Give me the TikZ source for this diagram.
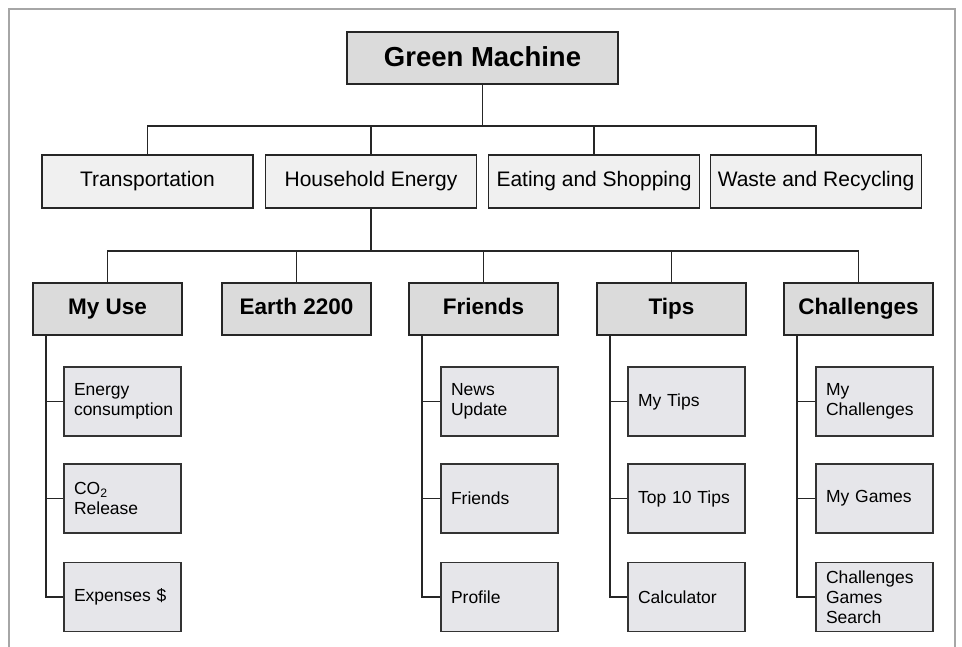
\documentclass[tikz,border=0pt]{standalone}
\usepackage{fontspec}
\setmainfont{Liberation Sans}
\begin{document}
\begin{tikzpicture}[x=1pt,y=-1pt,
  topbox/.style={draw=black!85, line width=2pt, fill=black!14, minimum width=271pt, minimum height=52pt, inner sep=0pt, text height=18pt, text depth=0pt, font=\fontsize{27.5}{33}\selectfont\bfseries},
  catbox/.style={draw=black!85, line width=1.5pt, fill=black!6, minimum width=211pt, minimum height=53pt, inner sep=0pt, text height=10.4pt, text depth=0pt, font=\fontsize{21}{25}\selectfont},
  secbox/.style={draw=black!85, line width=2.3pt, fill=black!14, minimum width=149pt, minimum height=52pt, inner sep=0pt, text height=12pt, text depth=0pt, font=\fontsize{22.5}{27}\selectfont\bfseries},
  leafbox/.style={draw=black!80, line width=1.4pt, fill=gray!15!blue!2!white!92!black, minimum height=69pt, inner xsep=10pt, inner ysep=0pt, text width=97pt, align=left, font=\fontsize{17.5}{20}\selectfont},
  conn/.style={draw=black!85, line width=1.3pt},
  framel/.style={draw=black!35, line width=2pt}
]
\useasboundingbox (0,0) rectangle (962,647);
\draw[framel] (9,647) -- (9,9) -- (955,9) -- (955,647);

% top
\node[topbox] (gm) at (482.5,58) {Green Machine};

% level 2
\node[catbox] (tr) at (147.5,181.5) {Transportation};
\node[catbox] (he) at (371,181.5) {Household Energy};
\node[catbox] (es) at (594,181.5) {Eating and Shopping};
\node[catbox] (wr) at (816,181.5) {Waste and Recycling};

% level 3
\node[secbox] (mu) at (107.5,309) {My Use};
\node[secbox] (ea) at (296.5,309) {Earth 2200};
\node[secbox] (fr) at (483.5,309) {Friends};
\node[secbox] (ti) at (671.5,309) {Tips};
\node[secbox] (ch) at (858.5,309) {Challenges};

% leaves
\node[leafbox] (mu1) at (122.5,401.5) {Energy\\consumption};
\node[leafbox] (mu2) at (122.5,498.5) {CO\textsubscript{2}\\Release};
\node[leafbox] (mu3) at (122.5,597) {Expenses \$};
\node[leafbox] (fr1) at (499.5,401.5) {News\\Update};
\node[leafbox] (fr2) at (499.5,498.5) {Friends};
\node[leafbox] (fr3) at (499.5,597) {Profile};
\node[leafbox] (ti1) at (686.5,401.5) {My Tips};
\node[leafbox] (ti2) at (686.5,498.5) {Top 10 Tips};
\node[leafbox] (ti3) at (686.5,597) {Calculator};
\node[leafbox] (ch1) at (874.5,401.5) {My\\Challenges};
\node[leafbox] (ch2) at (874.5,498.5) {My Games};
\node[leafbox] (ch3) at (874.5,597) {Challenges\\Games\\Search};

% connectors level 1-2
\coordinate (b1) at (482,126);
\draw[conn] (gm.south) -- (gm.south |- b1);
\draw[conn] (tr.north) -- (tr.north |- b1) -- (wr.north |- b1) -- (wr.north);
\draw[conn] (he.north) -- (he.north |- b1);
\draw[conn] (es.north) -- (es.north |- b1);

% connectors level 2-3
\coordinate (b2) at (371,251);
\draw[conn] (he.south) -- (he.south |- b2);
\draw[conn] (mu.north) -- (mu.north |- b2) -- (ch.north |- b2) -- (ch.north);
\draw[conn] (ea.north) -- (ea.north |- b2);
\draw[conn] (fr.north) -- (fr.north |- b2);
\draw[conn] (ti.north) -- (ti.north |- b2);

% trunks
\foreach \p in {mu,fr,ti,ch}{
  \coordinate (\p t) at ([xshift=14pt]\p.south west);
  \draw[conn] (\p t) |- (\p 3.west);
  \draw[conn] (\p 1.west) -- (\p 1.west -| \p t);
  \draw[conn] (\p 2.west) -- (\p 2.west -| \p t);
}
\end{tikzpicture}
\end{document}
